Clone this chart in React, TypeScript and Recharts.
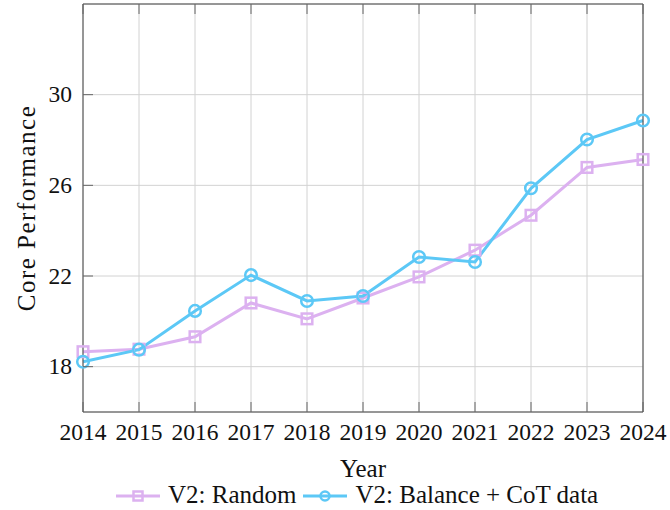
import { LineChart, Line, XAxis, YAxis, CartesianGrid, Legend } from 'recharts';

// values
const years = [2014, 2015, 2016, 2017, 2018, 2019, 2020, 2021, 2022, 2023, 2024];
const randomScores = [18.66, 18.77, 19.32, 20.81, 20.11, 21.03, 21.96, 23.14, 24.68, 26.79, 27.14];
const balanceCotScores = [18.22, 18.75, 20.46, 22.04, 20.9, 21.12, 22.84, 22.62, 25.87, 28.02, 28.86];
const seriesOrder = ['random', 'balance'];
const yTicks = [18, 22, 26, 30];
const yDomain: [number, number] = [16, 34];
const xDomain: [number, number] = [2014, 2024];

const data = years.map((year, i) => ({
  year,
  random: randomScores[i],
  balance: balanceCotScores[i],
}));

const PURPLE = '#dcb1f0';
const BLUE = '#5cc8f6';
const AXIS = '#444';
const TICK = '#666';
const FONT = "'Liberation Serif', 'DejaVu Serif', serif";
const TICK_LEN = 10;

const BottomTick = ({ x, y, payload }: any) => (
  <g>
    <line x1={x} y1={y - 28} x2={x} y2={y - 28 - TICK_LEN} stroke={TICK} />
    <text x={x} y={y} textAnchor="middle" fontFamily={FONT} fontSize={23.5} fill="#111">
      {payload.value}
    </text>
  </g>
);

const LeftTick = ({ x, y, payload }: any) => (
  <g>
    <line x1={x + 11} y1={y} x2={x + 11 + TICK_LEN} y2={y} stroke={TICK} />
    <text x={x} y={y} dy="0.33em" textAnchor="end" fontFamily={FONT} fontSize={23.5} fill="#111">
      {payload.value}
    </text>
  </g>
);

const TopTick = ({ x, y }: any) => <line x1={x} y1={y} x2={x} y2={y + TICK_LEN} stroke={TICK} />;
const RightTick = ({ x, y }: any) => <line x1={x} y1={y} x2={x - TICK_LEN} y2={y} stroke={TICK} />;

const SquareDot = ({ cx, cy }: any) => {
  if (cx == null || cy == null) return null;
  return <rect x={cx - 5.3} y={cy - 5.3} width={10.6} height={10.6} fill="none" stroke={PURPLE} strokeWidth={2.5} />;
};

const XLabel = ({ viewBox }: any) => (
  <text x={viewBox.x + viewBox.width / 2} y={viewBox.y + 65} textAnchor="middle" fontFamily={FONT} fontSize={25} fill="#111">
    Year
  </text>
);

const YLabel = ({ viewBox }: any) => {
  const cx = viewBox.x + 35;
  const cy = viewBox.y + viewBox.height / 2;
  return (
    <text x={cx} y={cy} transform={`rotate(-90, ${cx}, ${cy})`} textAnchor="middle" fontFamily={FONT} fontSize={25} letterSpacing={1.5} fill="#111">
      Core Performance
    </text>
  );
};

const LegendContent = ({ payload }: any) => {
  const items = [...(payload || [])].sort(
    (a: any, b: any) => seriesOrder.indexOf(a.dataKey) - seriesOrder.indexOf(b.dataKey)
  );
  return (
    <div style={{ display: 'flex', alignItems: 'center', fontFamily: FONT, fontSize: 25, lineHeight: '24px', color: '#111' }}>
      {items.map((entry: any) => (
        <div key={entry.value} style={{ display: 'flex', alignItems: 'center', marginRight: 7 }}>
          <svg width={44} height={24} style={{ marginRight: 8 }}>
            <line x1={0} y1={13} x2={44} y2={13} stroke={entry.color} strokeWidth={3} />
            {entry.dataKey === 'random' ? (
              <rect x={17.5} y={8.5} width={9} height={9} fill="none" stroke={entry.color} strokeWidth={2.5} />
            ) : (
              <circle cx={22} cy={13} r={4.5} fill="none" stroke={entry.color} strokeWidth={2.5} />
            )}
          </svg>
          <span style={{ fontFamily: FONT }}>{entry.value}</span>
        </div>
      ))}
    </div>
  );
};

export default function App() {
  return (
    <div style={{ position: 'absolute', left: 0, top: 0, width: 670, height: 510, background: '#fff' }}>
      <LineChart width={670} height={510} data={data} margin={{ top: 3, right: 26, left: 0, bottom: 0 }}>
        <CartesianGrid xAxisId="x" yAxisId="y" stroke="#d2d2d2" />
        <Line
          xAxisId="x"
          yAxisId="y"
          dataKey="random"
          name="V2: Random"
          stroke={PURPLE}
          strokeWidth={3}
          dot={<SquareDot />}
          isAnimationActive={false}
        />
        <Line
          xAxisId="x"
          yAxisId="y"
          dataKey="balance"
          name="V2: Balance + CoT data"
          stroke={BLUE}
          strokeWidth={3}
          dot={{ r: 5.8, fill: 'none', stroke: BLUE, strokeWidth: 2.5 }}
          isAnimationActive={false}
        />
        <XAxis
          xAxisId="x"
          dataKey="year"
          type="number"
          domain={xDomain}
          ticks={years}
          interval={0}
          height={98}
          tickSize={0}
          tickMargin={28}
          tickLine={false}
          tick={<BottomTick />}
          stroke={AXIS}
          label={<XLabel />}
        />
        <XAxis
          xAxisId="top"
          orientation="top"
          dataKey="year"
          type="number"
          domain={xDomain}
          ticks={years}
          interval={0}
          height={1}
          tickSize={0}
          tickMargin={0}
          tickLine={false}
          tick={<TopTick />}
          stroke={AXIS}
        />
        <YAxis
          yAxisId="y"
          type="number"
          domain={yDomain}
          ticks={yTicks}
          interval={0}
          width={83}
          tickSize={0}
          tickMargin={11}
          tickLine={false}
          tick={<LeftTick />}
          stroke={AXIS}
          label={<YLabel />}
        />
        <YAxis
          yAxisId="right"
          orientation="right"
          type="number"
          domain={yDomain}
          ticks={yTicks}
          interval={0}
          width={1}
          tickSize={0}
          tickMargin={0}
          tickLine={false}
          tick={<RightTick />}
          stroke={AXIS}
        />
        <Legend
          layout="horizontal"
          verticalAlign="middle"
          align="center"
          content={<LegendContent />}
          wrapperStyle={{ position: 'absolute', top: 483, left: 116, width: 560, fontFamily: FONT }}
        />
      </LineChart>
    </div>
  );
}
